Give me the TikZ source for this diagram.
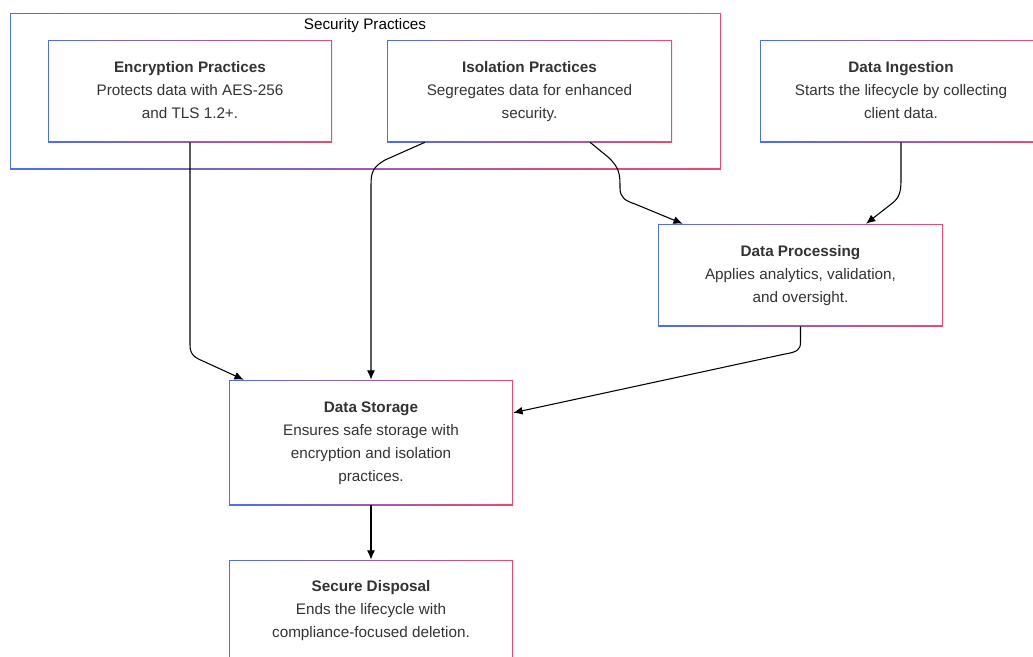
\documentclass[tikz,border=0pt]{standalone}
\usepackage{fontspec}
\setmainfont{Liberation Sans}
\usetikzlibrary{calc,arrows.meta}
\definecolor{gblue}{RGB}{74,110,245}
\definecolor{gpink}{RGB}{240,72,112}
\definecolor{txt}{RGB}{51,51,51}
\newcommand{\ttl}[1]{\strut\textbf{#1}}
\tikzset{
  gbox/.style={minimum width=#1, inner sep=0pt, align=center, text=txt,
    font=\fontsize{11.45}{17.25}\selectfont,
    execute at end node=\strut,
    path picture={
      \shade[left color=gblue, right color=gpink]
        (path picture bounding box.south west) rectangle (path picture bounding box.north east);
      \fill[white] ([shift={(1.1pt,1.1pt)}]path picture bounding box.south west)
        rectangle ([shift={(-1.1pt,-1.1pt)}]path picture bounding box.north east);
    }},
  arr/.style={draw=black, line width=0.8pt, -{Latex[length=7pt,width=6pt]}}
}
\begin{document}
\begin{tikzpicture}[x=0.75pt,y=-0.75pt]
\useasboundingbox (0,0) rectangle (1033,657);
\fill[white] (0,0) rectangle (1033,657);
% cluster
\node[gbox=533.25pt, minimum height=117pt] (sec) at (365.5,91) {};
\node[text=black, font=\fontsize{11.45}{13}\selectfont, anchor=base] (seclbl) at (365,29) {Security Practices};
% boxes
\node[gbox=213pt, minimum height=76.5pt] (enc) at (190,91)
  {\ttl{Encryption Practices}\\Protects data with AES-256\\and TLS 1.2+.};
\node[gbox=213.75pt, minimum height=76.5pt] (iso) at (529.5,91)
  {\ttl{Isolation Practices}\\Segregates data for enhanced\\security.};
\node[gbox=211.5pt, minimum height=76.5pt] (ing) at (901,91)
  {\ttl{Data Ingestion}\\Starts the lifecycle by collecting\\client data.};
\node[gbox=213.75pt, minimum height=76.5pt] (proc) at (800.5,275)
  {\ttl{Data Processing}\\Applies analytics, validation,\\and oversight.};
\node[gbox=213pt, minimum height=93.75pt] (stor) at (371,442.5)
  {\ttl{Data Storage}\\Ensures safe storage with\\encryption and isolation\\practices.};
\node[gbox=213pt, minimum height=75pt] (disp) at (371,610)
  {\ttl{Secure Disposal}\\Ends the lifecycle with\\compliance-focused deletion.};
% connectors
\draw[arr] (enc.south) -- (190,345) .. controls (190,356) and (196,358) .. (205,362) -- ($(stor.north west)+(15,0)$);
\draw[arr] ($(iso.south)+(-104.5,0)$) -- (385,160) .. controls (373,167) and (371,172) .. (371,185) -- (stor.north);
\draw[arr] ($(iso.south)+(60.5,0)$) -- (608,157) .. controls (620,168) and (620,175) .. (620,188) .. controls (620,198) and (626,201) .. (635,204) -- ($(proc.north west)+(25,0)$);
\draw[arr] (ing.south) -- (901,180) .. controls (901,195) and (898,199) .. (890,205) -- ($(proc.north)+(65.5,0)$);
\draw[arr] (proc.south) -- (800.5,342) .. controls (800.5,350) and (797,352) .. (785,354) -- ($(stor.north east)+(0,33)$);
\draw[arr] (stor.south) -- (disp.north);
\end{tikzpicture}
\end{document}
